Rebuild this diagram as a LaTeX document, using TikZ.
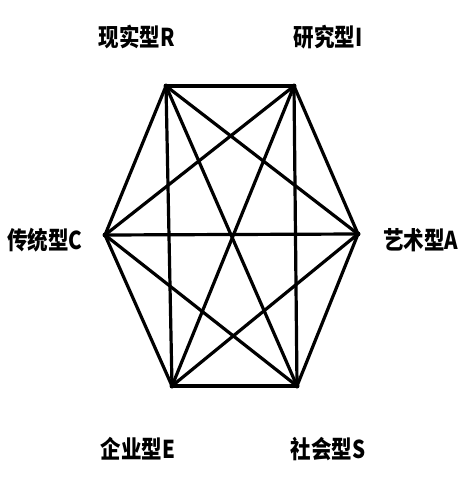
\documentclass[tikz,border=0pt]{standalone}
\usepackage{fontspec}
\newfontfamily\cjk{Noto Sans CJK SC}
\begin{document}
\begin{tikzpicture}[x=1pt,y=-1pt,
  vtx/.style={circle,fill=black,inner sep=0pt,minimum size=5pt},
  lab/.style={font=\cjk\bfseries\fontsize{20.5}{20.5}\selectfont,inner sep=0pt,yscale=1.2,transform shape},
  edge/.style={line width=3.2pt,line cap=round,line join=round}]
\useasboundingbox (0,0) rectangle (469,477);
\node[vtx] (R) at (166,86) {};
\node[vtx] (I) at (294,86) {};
\node[vtx] (A) at (358,234) {};
\node[vtx] (S) at (297,386) {};
\node[vtx] (E) at (172,386) {};
\node[vtx] (C) at (105,235) {};
\foreach \a/\b in {R/I,I/A,A/S,S/E,E/C,C/R,R/A,R/S,R/E,I/S,I/E,I/C,A/E,A/C,S/C}
  \draw[edge] (\a.center) -- (\b.center);
\node[lab] (lR) at (137,37) {现实型R};
\node[lab] (lI) at (328,37) {研究型I};
\node[lab] (lA) at (421,240) {艺术型A};
\node[lab] (lS) at (328,449) {社会型S};
\node[lab] (lE) at (138,449) {企业型E};
\node[lab] (lC) at (45,240) {传统型C};
\end{tikzpicture}
\end{document}
